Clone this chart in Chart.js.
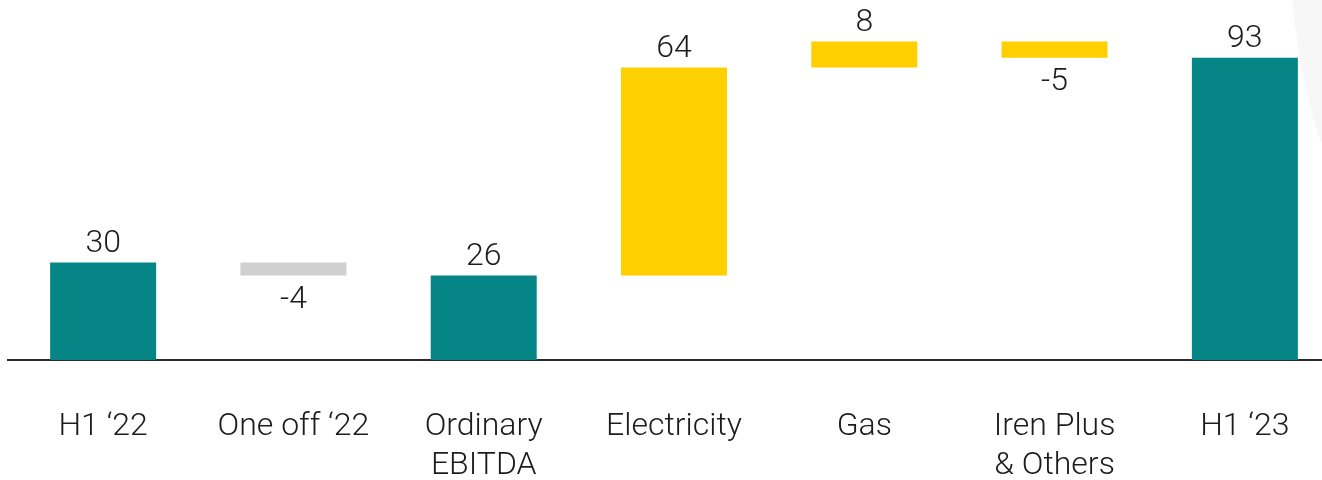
<!DOCTYPE html>
<html>
<head>
<meta charset="utf-8">
<script src="https://cdn.jsdelivr.net/npm/chart.js@4.4.1/dist/chart.umd.min.js"></script>
<style>
  html, body { margin: 0; padding: 0; background: #ffffff; overflow: hidden; }
  #wrap { width: 1322px; height: 480px; overflow: hidden; position: relative; }
  canvas { display: block; }
</style>
</head>
<body>
<div id="wrap"><canvas id="ebitda" width="1340" height="480"></canvas></div>
<script>
// EBITDA bridge, H1 '22 -> H1 '23 (€ m)
const categories = [
  "H1 ‘22",
  "One off ‘22",
  ["Ordinary", "EBITDA"],
  "Electricity",
  "Gas",
  ["Iren Plus", "& Others"],
  "H1 ‘23"
];
// value shown on each bar
const values = [30, -4, 26, 64, 8, -5, 93];
// 'total' bars start from zero, 'delta' bars float on the running total
const kinds = ["total", "delta", "total", "delta", "delta", "delta", "total"];

const TEAL = "#058585";
const YELLOW = "#FFD000";
const GREY = "#D0D0D0";

// Build floating [start, end] ranges from the running total
const ranges = [];
const colors = [];
let running = 0;
values.forEach((v, i) => {
  if (kinds[i] === "total") {
    ranges.push([0, v]);
    running = v;
    colors.push(TEAL);
  } else {
    ranges.push([running, running + v]);
    running += v;
    colors.push(i === 1 ? GREY : YELLOW);
  }
});

const FONT = "Roboto";
const TEXT = "#1c1c1c";

// Value labels: above the bar for increases/totals, below for decreases
const valueLabels = {
  id: "valueLabels",
  afterDatasetsDraw(chart) {
    const ctx = chart.ctx;
    const meta = chart.getDatasetMeta(0);
    ctx.save();
    ctx.font = "300 32px " + FONT;
    ctx.fillStyle = TEXT;
    ctx.textAlign = "center";
    ctx.textBaseline = "alphabetic";
    meta.data.forEach((bar, i) => {
      const v = values[i];
      const top = Math.min(bar.y, bar.base);
      const bottom = Math.max(bar.y, bar.base);
      const txt = String(v);
      if (v >= 0) {
        ctx.fillText(txt, bar.x, top - 11);
      } else {
        ctx.fillText(txt, bar.x, bottom + 32);
      }
    });
    ctx.restore();
  }
};

// Soft background swoosh in the top-right corner
const cornerShape = {
  id: "cornerShape",
  beforeDraw(chart) {
    const ctx = chart.ctx;
    ctx.save();
    ctx.fillStyle = "#f7f7f7";
    ctx.beginPath();
    ctx.moveTo(1292, 0);
    ctx.quadraticCurveTo(1302, 95, 1324, 150);
    ctx.lineTo(1340, 150);
    ctx.lineTo(1340, 0);
    ctx.closePath();
    ctx.fill();
    ctx.restore();
  }
};

new Chart(document.getElementById("ebitda"), {
  type: "bar",
  data: {
    labels: categories,
    datasets: [{
      data: ranges,
      backgroundColor: colors,
      borderWidth: 0,
      borderSkipped: false,
      barPercentage: 0.557,
      categoryPercentage: 1
    }]
  },
  options: {
    responsive: false,
    animation: false,
    devicePixelRatio: 1,
    layout: { padding: { left: 8, right: 0, top: 35, bottom: 0 } },
    plugins: {
      legend: { display: false },
      tooltip: { enabled: false }
    },
    scales: {
      x: {
        grid: { display: false, drawTicks: false },
        border: { display: true, color: "#2b2b2b", width: 2 },
        ticks: {
          color: TEXT,
          font: { family: FONT, size: 32, weight: 300, lineHeight: 1.2 },
          padding: 48,
          maxRotation: 0,
          autoSkip: false
        },
        afterFit(scale) { scale.height = 120; }
      },
      y: {
        display: false,
        min: 0,
        max: 100
      }
    }
  },
  plugins: [cornerShape, valueLabels]
});
</script>
</body>
</html>
